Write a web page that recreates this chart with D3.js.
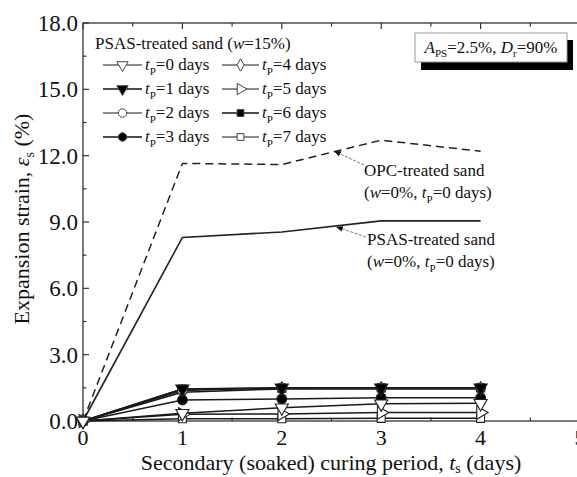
<!DOCTYPE html>
<html>
<head>
<meta charset="utf-8">
<script src="https://cdn.jsdelivr.net/npm/d3@7"></script>
<style>
  html, body { margin: 0; padding: 0; background: #fff; }
  svg { display: block; font-family: "Liberation Serif", "Times New Roman", serif; }
</style>
</head>
<body>
<svg id="chart" width="577" height="477"></svg>
<script>
// Secondary (soaked) curing period, days
const curingDays = [0, 1, 2, 3, 4];

// Reference mixes with no pre-curing
const opcSand  = [0, 11.65, 11.6, 12.7, 12.2];
const psasSand = [0, 8.3, 8.55, 9.05, 9.05];

// PSAS-treated sand (w = 15%) for pre-curing periods tP = 0..7 days
const precureLabels = ["0", "1", "2", "3", "4", "5", "6", "7"];
const tp0 = [0, 0.35, 0.60, 0.78, 0.80];
const tp1 = [0, 1.45, 1.50, 1.50, 1.50];
const tp2 = [0, 1.38, 1.50, 1.50, 1.50];
const tp3 = [0, 0.95, 1.00, 1.05, 1.05];
const tp4 = [0, 1.30, 1.45, 1.45, 1.45];
const tp5 = [0, 0.30, 0.32, 0.38, 0.38];
const tp6 = [0, 1.45, 1.48, 1.50, 1.50];
const tp7 = [0, 0.10, 0.10, 0.12, 0.12];
const precureSeries = [tp0, tp1, tp2, tp3, tp4, tp5, tp6, tp7];

// marker style per pre-curing period
const markerShapes = ["triDown", "triDown", "circle", "circle", "diamond", "triRight", "square", "square"];
const markerFilled = [false, true, false, true, false, false, true, false];

const xTicks = [0, 1, 2, 3, 4, 5];
const yTicks = [0, 3, 6, 9, 12, 15, 18];

const svg = d3.select("#chart");
const plotL = 83, plotR = 580, plotT = 23, plotB = 421;

const x = d3.scaleLinear().domain([0, 5]).range([plotL, plotR]);
const y = d3.scaleLinear().domain([0, 18]).range([plotB, plotT]);

// ---- frame and ticks (all ticks point inwards) ----
const frame = svg.append("g");
frame.append("rect")
  .attr("x", plotL).attr("y", plotT)
  .attr("width", plotR - plotL).attr("height", plotB - plotT)
  .attr("fill", "none").attr("stroke", "#333").attr("stroke-width", 1.3);

const xMinor = d3.range(0.5, 5, 1);
const yMinor = d3.range(1.5, 18, 3);

function tickLines(vals, len, horizontal) {
  vals.forEach(v => {
    if (horizontal) {
      frame.append("line").attr("x1", x(v)).attr("x2", x(v)).attr("y1", plotB).attr("y2", plotB - len)
        .attr("stroke", "#333").attr("stroke-width", 1.2);
      frame.append("line").attr("x1", x(v)).attr("x2", x(v)).attr("y1", plotT).attr("y2", plotT + len)
        .attr("stroke", "#333").attr("stroke-width", 1.2);
    } else {
      frame.append("line").attr("y1", y(v)).attr("y2", y(v)).attr("x1", plotL).attr("x2", plotL + len)
        .attr("stroke", "#333").attr("stroke-width", 1.2);
    }
  });
}
tickLines(xTicks, 6, true);
tickLines(xMinor, 3.5, true);
tickLines(yTicks, 6, false);
tickLines(yMinor, 3.5, false);

// tick labels
svg.append("g").selectAll("text").data(xTicks).join("text")
  .attr("x", d => x(d)).attr("y", plotB + 24)
  .attr("text-anchor", "middle").attr("font-size", 22).attr("fill", "#111")
  .text(d => d);

svg.append("g").selectAll("text").data(yTicks).join("text")
  .attr("x", plotL - 5).attr("y", d => y(d) + 8)
  .attr("text-anchor", "end").attr("font-size", 23).attr("fill", "#111")
  .text(d => d3.format(".1f")(d));

// axis titles
const xt = svg.append("text").attr("x", 331).attr("y", 470)
  .attr("text-anchor", "middle").attr("font-size", 22).attr("fill", "#111");
xt.append("tspan").text("Secondary (soaked) curing period, ");
xt.append("tspan").attr("font-style", "italic").text("t");
xt.append("tspan").attr("font-size", 14).attr("dy", 3).text("s");
xt.append("tspan").attr("dy", -3).text(" (days)");

const yt = svg.append("text")
  .attr("transform", "translate(29,219) rotate(-90)")
  .attr("text-anchor", "middle").attr("font-size", 22).attr("fill", "#111");
yt.append("tspan").text("Expansion strain, ");
yt.append("tspan").attr("font-style", "italic").text("ε");
yt.append("tspan").attr("font-size", 14).attr("dy", 5).text("s");
yt.append("tspan").attr("dy", -5).text(" (%)");

// ---- reference curves ----
const line = d3.line().x((d, i) => x(curingDays[i])).y(d => y(d));

svg.append("path").datum(opcSand).attr("d", line)
  .attr("fill", "none").attr("stroke", "#222").attr("stroke-width", 1.5)
  .attr("stroke-dasharray", "8,5");
svg.append("path").datum(psasSand).attr("d", line)
  .attr("fill", "none").attr("stroke", "#222").attr("stroke-width", 1.6);

// ---- markers ----
function symbolPath(shape, size) {
  switch (shape) {
    case "triDown":
    case "triRight": return d3.symbol().type(d3.symbolTriangle).size(size)();
    case "circle": return d3.symbol().type(d3.symbolCircle).size(size)();
    case "diamond": return d3.symbol().type(d3.symbolDiamond).size(size * 0.8)();
    case "square": return d3.symbol().type(d3.symbolSquare).size(size * 0.85)();
  }
}
function symbolRotate(shape) {
  if (shape === "triDown") return " rotate(180)";
  if (shape === "triRight") return " rotate(90)";
  return "";
}

// pre-curing series: draw later periods first so earlier ones sit on top
const seriesG = svg.append("g");
d3.range(precureSeries.length - 1, -1, -1).forEach(k => {
  const vals = precureSeries[k];
  seriesG.append("path").datum(vals).attr("d", line)
    .attr("fill", "none").attr("stroke", "#1a1a1a").attr("stroke-width", 1.5);
});
d3.range(precureSeries.length - 1, -1, -1).forEach(k => {
  const vals = precureSeries[k];
  seriesG.selectAll(null).data(vals).join("path")
    .attr("d", symbolPath(markerShapes[k], 75))
    .attr("transform", (d, i) => `translate(${x(curingDays[i])},${y(d)})` + symbolRotate(markerShapes[k]))
    .attr("fill", markerFilled[k] ? "#000" : "#fff")
    .attr("stroke", "#222").attr("stroke-width", 1.1);
});

// ---- legend ----
const lg = svg.append("g");
const lt = lg.append("text").attr("x", 95).attr("y", 49).attr("font-size", 17).attr("fill", "#111");
lt.append("tspan").text("PSAS-treated sand (");
lt.append("tspan").attr("font-style", "italic").text("w");
lt.append("tspan").text("=15%)");

const rowY = [65, 89, 113, 137];
precureLabels.forEach((lab, k) => {
  const col = Math.floor(k / 4), row = k % 4;
  const x0 = col === 0 ? 103 : 222;
  const x1 = col === 0 ? 142 : 259;
  const cy = rowY[row];
  lg.append("line").attr("x1", x0).attr("x2", x1).attr("y1", cy).attr("y2", cy)
    .attr("stroke", markerFilled[k] ? "#111" : "#666").attr("stroke-width", 1.4);
  lg.append("path").attr("d", symbolPath(markerShapes[k], 55))
    .attr("transform", `translate(${(x0 + x1) / 2},${cy})` + symbolRotate(markerShapes[k]))
    .attr("fill", markerFilled[k] ? "#000" : "#fff")
    .attr("stroke", "#444").attr("stroke-width", 1);
  const t = lg.append("text").attr("x", x1 + 3).attr("y", cy + 5).attr("font-size", 17).attr("fill", "#111");
  t.append("tspan").attr("font-style", "italic").text("t");
  t.append("tspan").attr("font-size", 11).attr("dy", 5).text("P");
  t.append("tspan").attr("dy", -5).text(`=${lab} days`);
});

// ---- parameter box with drop shadow ----
svg.append("rect").attr("x", 421).attr("y", 40).attr("width", 152).attr("height", 30).attr("fill", "#000");
svg.append("rect").attr("x", 415).attr("y", 33).attr("width", 152).attr("height", 29)
  .attr("fill", "#fff").attr("stroke", "#999").attr("stroke-width", 1);
const bt = svg.append("text").attr("x", 491).attr("y", 53).attr("text-anchor", "middle")
  .attr("font-size", 17).attr("fill", "#111");
bt.append("tspan").attr("font-style", "italic").text("A");
bt.append("tspan").attr("font-size", 11).attr("dy", 4).text("PS");
bt.append("tspan").attr("dy", -4).text("=2.5%, ");
bt.append("tspan").attr("font-style", "italic").text("D");
bt.append("tspan").attr("font-size", 11).attr("dy", 4).text("r");
bt.append("tspan").attr("dy", -4).text("=90%");

// ---- callouts ----
svg.append("defs").append("marker").attr("id", "ah")
  .attr("viewBox", "0 0 10 10").attr("refX", 9).attr("refY", 5)
  .attr("markerWidth", 7).attr("markerHeight", 7).attr("orient", "auto")
  .append("path").attr("d", "M0,1 L10,5 L0,9 Z").attr("fill", "#111");

function callout(xv, yv, tx, ty) {
  svg.append("line")
    .attr("x1", tx).attr("y1", ty).attr("x2", x(xv)).attr("y2", y(yv))
    .attr("stroke", "#777").attr("stroke-width", 1).attr("stroke-dasharray", "3,1.5")
    .attr("marker-end", "url(#ah)");
}
callout(2.53, 12.2, 364, 165);
callout(2.55, 8.78, 366, 237);

function noteText(x0, y0, name) {
  svg.append("text").attr("x", x0).attr("y", y0).attr("font-size", 17).attr("fill", "#111").text(name);
  const t2 = svg.append("text").attr("x", x0).attr("y", y0 + 22).attr("font-size", 17).attr("fill", "#111");
  t2.append("tspan").text("(");
  t2.append("tspan").attr("font-style", "italic").text("w");
  t2.append("tspan").text("=0%, ");
  t2.append("tspan").attr("font-style", "italic").text("t");
  t2.append("tspan").attr("font-size", 11).attr("dy", 5).text("P");
  t2.append("tspan").attr("dy", -5).text("=0 days)");
}
noteText(364, 176, "OPC-treated sand");
noteText(367, 245, "PSAS-treated sand");
</script>
</body>
</html>
